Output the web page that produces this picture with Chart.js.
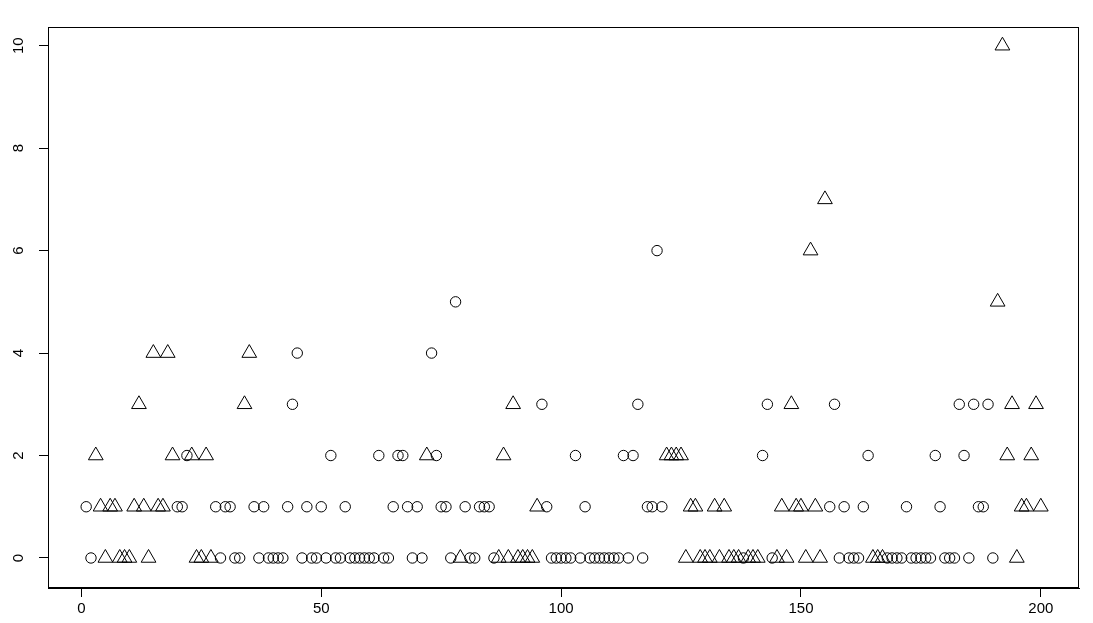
<!DOCTYPE html>
<html><head><meta charset="utf-8">
<script src="https://cdn.jsdelivr.net/npm/chart.js@4"></script>
<style>html,body{margin:0;padding:0;background:#fff;overflow:hidden}canvas{display:block}</style>
</head><body>
<canvas id="c" width="1093" height="623"></canvas>
<script>
// tick labels
const xTicks = [0, 50, 100, 150, 200];
const yTicks = [0, 2, 4, 6, 8, 10];

// observation values for index 1..200
const values = [
  1,0,2,1,0,1,1,0,0,0,
  1,3,1,0,4,1,1,4,2,1,
  1,2,2,0,0,2,0,1,0,1,
  1,0,0,3,4,1,0,1,0,0,
  0,0,1,3,4,0,1,0,0,1,
  0,2,0,0,1,0,0,0,0,0,
  0,2,0,0,1,2,2,1,0,1,
  0,2,4,2,1,1,0,5,0,1,
  0,0,1,1,1,0,0,2,0,3,
  0,0,0,0,1,3,1,0,0,0,
  0,0,2,0,1,0,0,0,0,0,
  0,0,2,0,2,3,0,1,1,6,
  1,2,2,2,2,0,1,1,0,0,
  0,1,0,1,0,0,0,0,0,0,
  0,2,3,0,0,1,0,3,1,1,
  0,6,1,0,7,1,3,0,1,0,
  0,0,1,2,0,0,0,0,0,0,
  0,1,0,0,0,0,0,2,1,0,
  0,0,3,2,0,3,1,1,3,0,
  5,10,2,3,0,1,1,2,3,1
];

// group of each observation: c = circle, t = triangle
const groups = (
  "cctttttttt" + "tttttttttc" + "cctttttccc" + "cccttccccc" + "cccccccccc" +
  "cccccccccc" + "cccccccccc" + "ctcccccctc" + "cccccctttt" + "tttttccccc" +
  "cccccccccc" + "cccccccccc" + "cttttttttt" + "tttttttctt" + "tccctttttt" +
  "tttttccccc" + "cccctttccc" + "cccccccccc" + "cccccccccc" + "tttttttttt"
).split('');

const circlePts = [], trianglePts = [];
values.forEach((v, i) => {
  const p = { x: i + 1, y: v };
  if (groups[i] === 't') trianglePts.push(p); else circlePts.push(p);
});

const FONT = { family: "'Liberation Sans', Arial, sans-serif", size: 15 };

const boxPlugin = {
  id: 'box',
  afterDraw(chart) {
    const a = chart.chartArea, ctx = chart.ctx;
    ctx.save();
    ctx.strokeStyle = '#000';
    ctx.lineWidth = 1;
    ctx.strokeRect(Math.round(a.left) + 0.5, Math.round(a.top) + 0.5,
                   Math.round(a.right - a.left) - 1, Math.round(a.bottom - a.top) - 1);
    ctx.restore();
  }
};

new Chart(document.getElementById('c'), {
  type: 'scatter',
  data: {
    datasets: [
      { data: circlePts, pointStyle: 'circle', pointRadius: 5.2, pointBorderWidth: 1,
        borderColor: '#000', backgroundColor: 'rgba(0,0,0,0)' },
      { data: trianglePts, pointStyle: 'triangle', pointRadius: 8.5, pointBorderWidth: 1,
        borderColor: '#000', backgroundColor: 'rgba(0,0,0,0)' }
    ]
  },
  options: {
    responsive: false,
    animation: false,
    events: [],
    layout: { padding: { top: 27, right: 14, left: 0, bottom: 0 } },
    plugins: { legend: { display: false }, tooltip: { enabled: false } },
    scales: {
      x: {
        type: 'linear', min: -6.96, max: 207.96,
        afterBuildTicks: s => { s.ticks = xTicks.map(v => ({ value: v })); },
        afterFit: s => { s.height = 35; },
        grid: { drawOnChartArea: false, drawTicks: true, tickLength: 9, tickColor: '#000', tickWidth: 1 },
        border: { display: true, color: '#000', width: 1 },
        ticks: { color: '#000', font: FONT, padding: 3, maxRotation: 0, autoSkip: false }
      },
      y: {
        type: 'linear', min: -0.586, max: 10.365,
        afterBuildTicks: s => { s.ticks = yTicks.map(v => ({ value: v })); },
        afterFit: s => { s.width = 48; },
        grid: { drawOnChartArea: false, drawTicks: true, tickLength: 9, tickColor: '#000', tickWidth: 1 },
        border: { display: true, color: '#000', width: 1 },
        ticks: { color: '#000', font: FONT, padding: 12, minRotation: 90, maxRotation: 90,
                 crossAlign: 'center', autoSkip: false }
      }
    }
  },
  plugins: [boxPlugin]
});
</script>
</body></html>
